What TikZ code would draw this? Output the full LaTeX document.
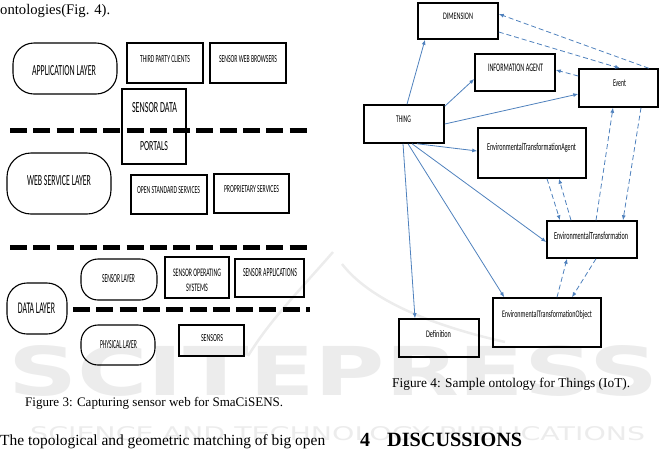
\documentclass[tikz,border=0pt]{standalone}
\usepackage{fontspec}
\setmainfont{Liberation Serif}
\newfontfamily\cfont{Carlito}
\newfontfamily\wfont{DejaVu Sans}
\usepackage{graphicx}
\usetikzlibrary{arrows.meta}
\definecolor{arrblue}{RGB}{79,129,189}
\definecolor{wmgray}{RGB}{236,236,236}
\newcommand\lbl[3]{\resizebox{#1pt}{#2pt}{\cfont #3}}
\newcommand\fitw[2]{\resizebox{#1pt}{!}{#2}}
\begin{document}
\begin{tikzpicture}[x=1pt,y=-1pt,
  pill/.style={draw,line width=1.1pt,inner sep=0pt,rounded corners=21pt},
  lbox/.style={draw,line width=1.3pt,inner sep=0pt},
  rbox/.style={draw,line width=1.5pt,inner sep=0pt},
  txt/.style={inner sep=0pt,anchor=base},
  body/.style={inner sep=0pt,anchor=base west},
  thickdash/.style={line width=5pt,dash pattern=on 17pt off 6.3pt},
  solidarr/.style={draw=arrblue,line width=0.8pt,-{Latex[length=5pt,width=4pt]}},
  dasharr/.style={solidarr,dash pattern=on 5pt off 3pt},
  wm/.style={inner sep=0pt,text=wmgray,anchor=base west}]
\useasboundingbox (0,0) rectangle (666,448);
% watermark
\node[wm] (wm1) at (8,395) {\resizebox{650pt}{50pt}{\wfont\bfseries SCITEPRESS}};
\node[wm] (wm2) at (30,440) {\resizebox{615pt}{14pt}{\wfont SCIENCE AND TECHNOLOGY PUBLICATIONS}};
\draw[wmgray,line width=2.5pt] (333,252) .. controls (300,290) and (270,320) .. (248,356);
\draw[wmgray,line width=2.5pt] (342,264) .. controls (370,300) and (430,325) .. (505,342);
% body text
\node[body] (t1) at (0,14) {\fitw{110}{ontologies(Fig. 4).}};
\node[body] (cap3) at (25,406) {\fitw{258}{Figure 3: Capturing sensor web for SmaCiSENS.}};
\node[body] (cap4) at (392,387) {\fitw{238}{Figure 4: Sample ontology for Things (IoT).}};
\node[body] (t2) at (0,445) {\fitw{325}{The topological and geometric matching of big open}};
\node[body] (s4) at (360,446) {\fitw{10}{\bfseries 4}};
\node[body] (s4t) at (387,446) {\fitw{135}{\bfseries DISCUSSIONS}};
% ===== Figure 3 =====
\node[pill,minimum width=104pt,minimum height=51pt] (app) at (65,68.5) {};
\node[pill,minimum width=104pt,minimum height=61pt,rounded corners=24pt] (wsl) at (59,183.5) {};
\node[pill,minimum width=76pt,minimum height=41pt,rounded corners=17pt] (sl) at (119,279.5) {};
\node[pill,minimum width=60pt,minimum height=51pt,rounded corners=20pt] (dl) at (37,308.5) {};
\node[pill,minimum width=74pt,minimum height=40pt,rounded corners=17pt] (pl) at (118,345) {};
\node[lbox,minimum width=76pt,minimum height=40pt] (tpc) at (165,63) {};
\node[lbox,minimum width=76pt,minimum height=40pt] (swb) at (248,63) {};
\node[lbox,minimum width=64pt,minimum height=75pt] (sd) at (154,126.5) {};
\node[lbox,minimum width=76pt,minimum height=39pt] (oss) at (169,194.5) {};
\node[lbox,minimum width=75pt,minimum height=39pt] (ps) at (251.5,193.5) {};
\node[lbox,minimum width=64pt,minimum height=41pt] (sos) at (197,277.5) {};
\node[lbox,minimum width=69pt,minimum height=38pt] (sa) at (269.5,278) {};
\node[lbox,minimum width=65pt,minimum height=31pt] (sen) at (211.5,340.5) {};
\coordinate (d1s) at (10,130); \coordinate (d1e) at (308,130);
\coordinate (d2s) at (10,247); \coordinate (d2e) at (308,247);
\coordinate (d3s) at (73,309); \coordinate (d3e) at (310,309);
\draw[thickdash] (d1s) -- (d1e);
\draw[thickdash] (d2s) -- (d2e);
\draw[thickdash] (d3s) -- (d3e);
\node[txt] (appT) at (64,75) {\lbl{64}{10}{APPLICATION LAYER}};
\node[txt] (tpcT) at (165,62.7) {\lbl{50}{7}{THIRD PARTY CLIENTS}};
\node[txt] (swbT) at (248,62.7) {\lbl{58}{7}{SENSOR WEB BROWSERS}};
\node[txt] (sdT) at (154.5,112.3) {\lbl{45}{10}{SENSOR DATA}};
\node[txt] (porT) at (154,150.7) {\lbl{28}{9}{PORTALS}};
\node[txt] (wslT) at (59,185.7) {\lbl{64}{10}{WEB SERVICE LAYER}};
\node[txt] (ossT) at (168.5,193.3) {\lbl{63}{7}{OPEN STANDARD SERVICES}};
\node[txt] (psT) at (251.5,192.3) {\lbl{55}{7}{PROPRIETARY SERVICES}};
\node[txt] (slT) at (118.5,282.7) {\lbl{33}{8}{SENSOR LAYER}};
\node[txt] (sosT1) at (197,276) {\lbl{48}{7.5}{SENSOR OPERATING}};
\node[txt] (sosT2) at (197,291.7) {\lbl{22}{7.5}{SYSTEMS}};
\node[txt] (saT) at (270,276.7) {\lbl{54}{8}{SENSOR APPLICATIONS}};
\node[txt] (dlT) at (36.5,313.3) {\lbl{37}{10.5}{DATA LAYER}};
\node[txt] (plT) at (118.5,348.3) {\lbl{37}{8}{PHYSICAL LAYER}};
\node[txt] (senT) at (212,341.7) {\lbl{22}{7}{SENSORS}};
% ===== Figure 4 =====
\node[rbox,minimum width=80pt,minimum height=36pt] (dim) at (458,21) {};
\node[rbox,minimum width=80pt,minimum height=37pt] (ia) at (515,72.5) {};
\node[rbox,minimum width=79pt,minimum height=38pt] (ev) at (618.5,88) {};
\node[rbox,minimum width=80pt,minimum height=38pt] (th) at (404,124) {};
\node[rbox,minimum width=108pt,minimum height=50pt] (eta) at (532,153) {};
\node[rbox,minimum width=90pt,minimum height=37pt] (et) at (592,239.5) {};
\node[rbox,minimum width=108pt,minimum height=49pt] (eto) at (547,322.5) {};
\node[rbox,minimum width=80pt,minimum height=38pt] (def) at (439,338) {};
\node[txt] (dimT) at (458,19.3) {\lbl{30}{6.5}{DIMENSION}};
\node[txt] (iaT) at (515.5,71.7) {\lbl{55}{7.5}{INFORMATION AGENT}};
\node[txt] (evT) at (619.5,86.7) {\lbl{13}{6.7}{Event}};
\node[txt] (thT) at (403.5,122.7) {\lbl{15}{6.7}{THING}};
\node[txt] (etaT) at (531.5,150) {\lbl{89}{7.3}{EnvironmentalTransformationAgent}};
\node[txt] (etT) at (591,239.3) {\lbl{74}{7.5}{EnvironmentalTransformation}};
\node[txt] (etoT) at (547,317) {\lbl{90}{7}{EnvironmentalTransformationObject}};
\node[txt] (defT) at (438.5,337.3) {\lbl{25}{7}{Definition}};
% solid arrows from THING
\draw[solidarr] ([xshift=3pt]th.north) -- ([xshift=-33pt]dim.south);
\draw[solidarr] ([yshift=-2pt]th.north east) -- ([yshift=-6.5pt]ia.west);
\draw[solidarr] (th.east) -- ([yshift=-6pt]ev.west);
\draw[solidarr] ([xshift=13pt]th.south) -- ([yshift=2pt]eta.west);
\draw[solidarr] ([xshift=8pt]th.south) -- ([yshift=-2.5pt]et.west);
\draw[solidarr] ([xshift=4pt]th.south) -- ([xshift=12pt]eto.north west);
\draw[solidarr] ([xshift=-1pt]th.south) -- ([xshift=-24pt]def.north);
% dashed arrows
\draw[dasharr] ([xshift=-10pt]ev.north east) -- ([yshift=7pt]dim.east);
\draw[dasharr] ([yshift=-11pt]dim.east) -- ([xshift=1.5pt]ev.north);
\draw[dasharr] ([yshift=12pt]ev.west) -- ([yshift=2.5pt]ia.east);
\draw[dasharr] ([xshift=4pt]et.north) -- ([xshift=-5.5pt]ev.south);
\draw[dasharr] ([xshift=22.5pt]ev.south) -- ([xshift=31pt]et.north);
\draw[dasharr] ([xshift=15pt]eta.south) -- ([xshift=-32pt]et.north);
\draw[dasharr] ([xshift=-21pt]et.north) -- ([xshift=27pt]eta.south);
\draw[dasharr] ([xshift=10pt]eto.north) -- ([xshift=-25pt]et.south);
\draw[dasharr] ([xshift=4pt]et.south) -- ([xshift=25pt]eto.north);
\end{tikzpicture}
\end{document}
